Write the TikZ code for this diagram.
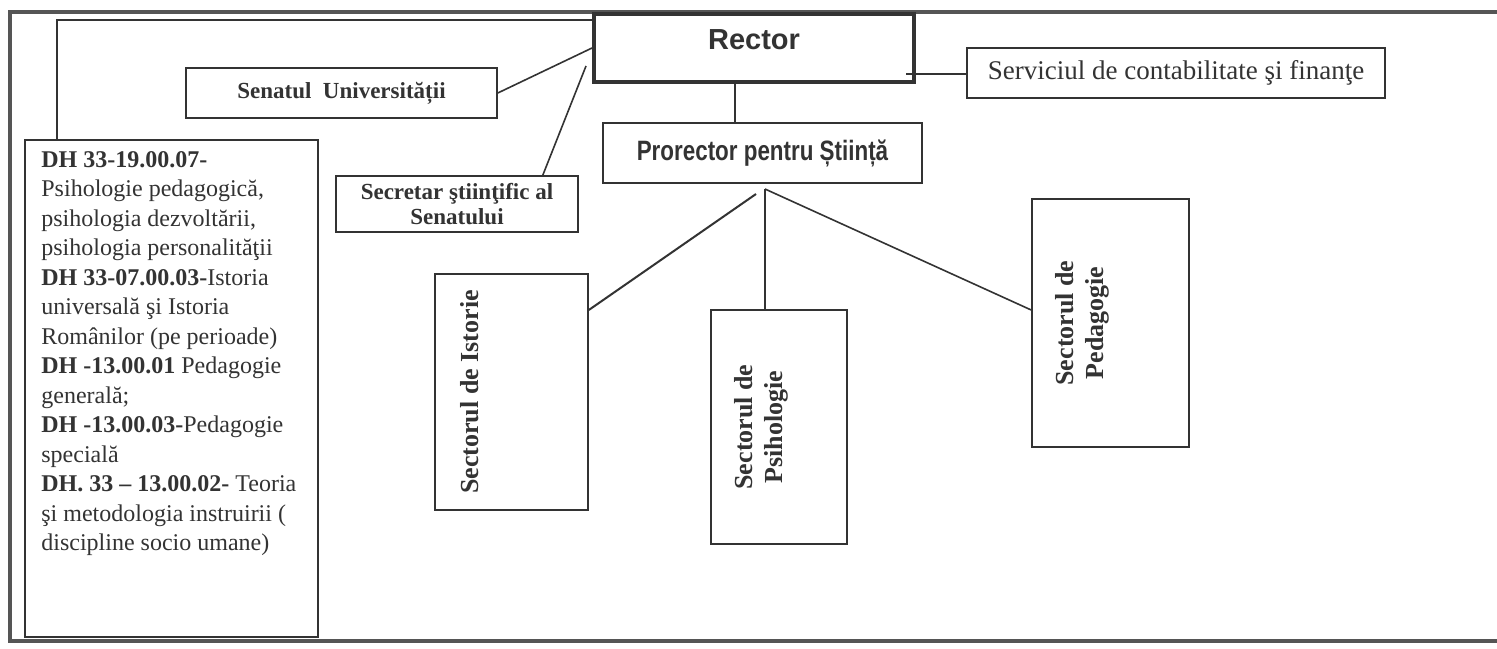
\documentclass[tikz,border=0pt]{standalone}
\usepackage{fontspec}
\usepackage{graphicx}
\setmainfont{Liberation Serif}
\newfontfamily\arialf{Liberation Sans}
\usetikzlibrary{calc}
\definecolor{ink}{HTML}{333333}
\definecolor{frame}{HTML}{555555}
\tikzset{
  box/.style={draw=ink, line width=0.8pt, inner sep=0pt, text=ink},
  conn/.style={draw=ink, line width=0.8pt},
  lbl/.style={inner sep=0pt, text=ink},
}
\begin{document}
\begin{tikzpicture}[x=0.5pt,y=-0.5pt]
\useasboundingbox (0,0) rectangle (1497,648);
\fill[white] (0,0) rectangle (1497,648);
% outer frame
\draw[frame, line width=2pt] (1500,12) -- (10,12) -- (10,641) -- (1500,641);

% boxes
\node[box, line width=2pt, minimum width=160pt, minimum height=34pt] (Rector) at (754,48) {};
\node[lbl, font=\arialf\bfseries\fontsize{14.5}{17}\selectfont] (RectorT) at (754,40) {Rector};
\node[box, minimum width=155.5pt, minimum height=25pt, font=\bfseries\fontsize{11.5}{13}\selectfont] (Senatul) at (341.5,93) {Senatul\ \ Universității};
\node[box, minimum width=121pt, minimum height=28pt, align=center, font=\bfseries\fontsize{11.5}{12.5}\selectfont] (Secretar) at (457,204) {Secretar ştiinţific al\\Senatului};
\node[box, minimum width=209pt, minimum height=25pt, font=\fontsize{13.5}{16}\selectfont] (Serviciul) at (1176,73) {Serviciul de contabilitate şi finanţe};
\node[box, minimum width=159.5pt, minimum height=30pt, font=\arialf\bfseries\fontsize{14}{16}\selectfont] (Prorector) at (762.5,153) {\scalebox{0.8}[1]{Prorector pentru Știință}};
\node[box, minimum width=146.5pt, minimum height=248.5pt] (DH) at (171.5,388.5) {};
\node[lbl, anchor=north west, align=left, font=\fontsize{12}{14.75}\selectfont] (DHT) at (41,151) {%
\textbf{DH 33-19.00.07-}\\
Psihologie pedagogică,\\
psihologia dezvoltării,\\
psihologia personalităţii\\
\textbf{DH 33-07.00.03-}Istoria\\
universală şi Istoria\\
Românilor (pe perioade)\\
\textbf{DH -13.00.01} Pedagogie\\
generală;\\
\textbf{DH -13.00.03-}Pedagogie\\
specială\\
\textbf{DH. 33 – 13.00.02-} Teoria\\
şi metodologia instruirii (\\
discipline socio umane)};

\node[box, minimum width=76.5pt, minimum height=118pt] (Istorie) at (511.5,392) {};
\node[lbl, rotate=90, font=\bfseries\fontsize{13}{15}\selectfont] (IstorieT) at (470,392) {Sectorul de Istorie};
\node[box, minimum width=68pt, minimum height=117pt] (Psih) at (779,427) {};
\node[lbl, rotate=90, align=center, font=\bfseries\fontsize{13}{15}\selectfont] (PsihT) at (761,427) {Sectorul de\\Psihologie};
\node[box, minimum width=78.5pt, minimum height=124pt] (Ped) at (1110.5,323) {};
\node[lbl, rotate=90, align=center, font=\bfseries\fontsize{13}{15}\selectfont] (PedT) at (1082,323) {Sectorul de\\Pedagogie};

% connectors
\coordinate (tl) at (57,20);
\draw[conn, line width=1.2pt] (Rector.west |- tl) -- (tl) -- (tl |- DH.north);
\draw[conn] (Senatul.east) -- (Rector.west);
\coordinate (s1) at (586,66);
\draw[conn] (s1) -- ($(Secretar.north east)+(-36,0)$);
\coordinate (r2) at (906,74);
\draw[conn, line width=1.2pt] (r2) -- (r2 -| Serviciul.west);
\coordinate (pv) at (735,100);
\draw[conn] (Rector.south -| pv) -- (Prorector.north -| pv);
\coordinate (apex) at (765,189);
\coordinate (apexL) at (756,194);
\coordinate (iy) at (0,310);
\draw[conn, line width=1pt] (apexL) -- (Istorie.east |- iy);
\draw[conn] (apex) -- (Psih.north -| apex);
\draw[conn] (apex) -- (Ped.west |- iy);
\end{tikzpicture}
\end{document}
